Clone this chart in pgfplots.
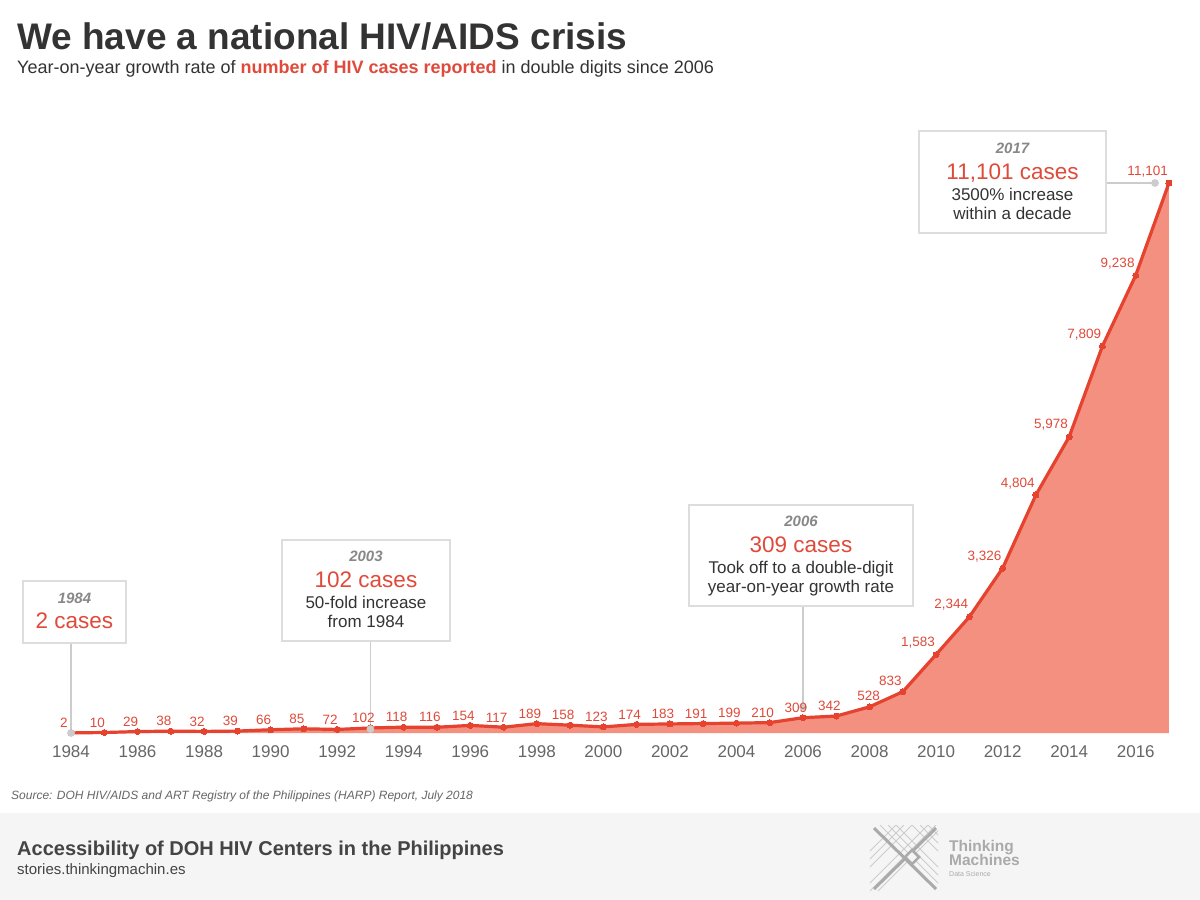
\documentclass[border=0pt]{standalone}
\usepackage{pgfplots}
\pgfplotsset{compat=1.18}
\usepackage{pgfplotstable}
\usepackage{fontspec}
\setmainfont{Liberation Sans}
\definecolor{linered}{HTML}{E5432F}
\definecolor{areared}{HTML}{F4907F}
\definecolor{labred}{HTML}{E04A3A}
\definecolor{titlegray}{HTML}{333333}
\definecolor{tickgray}{HTML}{666666}
\definecolor{markgray}{HTML}{CCCCCC}
\definecolor{boxgray}{HTML}{DDDDDD}
\definecolor{yeargray}{HTML}{888888}
\definecolor{footbg}{HTML}{F5F5F5}
\definecolor{foottext}{HTML}{444444}
\definecolor{logogray}{HTML}{AAAAAA}
\newcommand{\fs}[1]{\fontsize{#1}{#1}\selectfont}
\pgfplotstableread{
year val lab
1984 2 2
1985 10 10
1986 29 29
1987 38 38
1988 32 32
1989 39 39
1990 66 66
1991 85 85
1992 72 72
1993 102 102
1994 118 118
1995 116 116
1996 154 154
1997 117 117
1998 189 189
1999 158 158
2000 123 123
2001 174 174
2002 183 183
2003 191 191
2004 199 199
2005 210 210
2006 309 309
2007 342 342
2008 528 528
2009 833 833
2010 1583 1,583
2011 2344 2,344
2012 3326 3,326
2013 4804 4,804
2014 5978 5,978
2015 7809 7,809
2016 9238 9,238
2017 11101 11,101
}\hiv
\begin{document}
\begin{tikzpicture}
\fill[white] (0pt,0pt) rectangle (1200pt,-900pt);
\fill[footbg] (0pt,-813pt) rectangle (1200pt,-900pt);
\path[use as bounding box] (0pt,0pt) rectangle (1200pt,-900pt);
% titles
\node[anchor=base west, inner sep=0pt, font=\fs{37}\bfseries, text=titlegray] at (17pt,-49pt) {We have a national HIV/AIDS crisis};
\node[anchor=base west, inner sep=0pt, font=\fs{18}, text=titlegray] at (17pt,-73pt) {Year-on-year growth rate of {\bfseries\color{labred}number of HIV cases reported} in double digits since 2006};
\begin{axis}[
  at={(71pt,-733pt)}, anchor=south west,
  scale only axis, width=1098pt, height=550pt,
  xmin=1984, xmax=2017, ymin=0, ymax=11101,
  clip=false,
  axis line style={draw=none},
  ytick=\empty,
  xtick={1984,1986,...,2016},
  xticklabels={1984,1986,1988,1990,1992,1994,1996,1998,2000,2002,2004,2006,2008,2010,2012,2014,2016},
  major tick length=0pt,
  xticklabel style={font=\fs{17}, text=tickgray, yshift=-9pt},
]
\addplot[fill=areared, draw=none] table[x=year,y=val]{\hiv} \closedcycle;
\addplot[linered, line width=3.2pt, mark=*, mark size=3pt, mark options={fill=linered, draw=linered, line width=0pt}] table[x=year,y=val]{\hiv};
% leader lines
\draw[markgray, line width=1.2pt] (axis cs:1984,0) -- ++(0pt,90pt);
\draw[markgray, line width=1.2pt] (axis cs:1993,81) -- ++(0pt,88pt);
\draw[markgray, line width=1.2pt] (axis cs:2006,525) -- ++(0pt,101pt);
\draw[markgray, line width=1.2pt] (axis cs:2016.58,11101) -- ++(-49pt,0pt);
\addplot[only marks, mark=*, mark size=3.6pt, color=markgray, mark options={fill=markgray, draw=markgray}] coordinates {(1984,0) (1993,81) (2006,525) (2016.58,11101)};
% value labels
\addplot[draw=none, mark=none, nodes near coords, point meta=explicit symbolic,
  restrict x to domain=1984:2007,
  every node near coord/.style={font=\fs{13.5}, text=labred, anchor=south, xshift=-7pt, yshift=5pt, inner sep=0pt}]
  table[x=year,y=val,meta=lab]{\hiv};
\addplot[draw=none, mark=none, nodes near coords, point meta=explicit symbolic,
  restrict x to domain=2008:2008,
  every node near coord/.style={font=\fs{13.5}, text=labred, anchor=south, xshift=-1pt, yshift=6pt, inner sep=0pt}]
  table[x=year,y=val,meta=lab]{\hiv};
\addplot[draw=none, mark=none, nodes near coords, point meta=explicit symbolic,
  restrict x to domain=2009:2017,
  every node near coord/.style={font=\fs{13.5}, text=labred, anchor=south east, xshift=-1pt, yshift=6pt, inner sep=0pt}]
  table[x=year,y=val,meta=lab]{\hiv};
\end{axis}
% annotation boxes
\draw[boxgray, line width=1.6pt, fill=white] (23pt,-581pt) rectangle (126pt,-643pt);
\node[anchor=base, inner sep=0pt, font=\fs{15}\bfseries\itshape, text=yeargray] at (74.5pt,-603.5pt) {1984};
\node[anchor=base, inner sep=0pt, font=\fs{22.5}, text=labred] at (74.5pt,-628pt) {2 cases};

\draw[boxgray, line width=1.6pt, fill=white] (282pt,-540pt) rectangle (450pt,-641pt);
\node[anchor=base, inner sep=0pt, font=\fs{15}\bfseries\itshape, text=yeargray] at (366pt,-561.5pt) {2003};
\node[anchor=base, inner sep=0pt, font=\fs{22.5}, text=labred] at (366pt,-587pt) {102 cases};
\node[anchor=base, inner sep=0pt, font=\fs{17}, text=titlegray] at (366pt,-608pt) {50-fold increase};
\node[anchor=base, inner sep=0pt, font=\fs{17}, text=titlegray] at (366pt,-627pt) {from 1984};

\draw[boxgray, line width=1.6pt, fill=white] (689pt,-505pt) rectangle (913pt,-606pt);
\node[anchor=base, inner sep=0pt, font=\fs{15}\bfseries\itshape, text=yeargray] at (801pt,-526.5pt) {2006};
\node[anchor=base, inner sep=0pt, font=\fs{22.5}, text=labred] at (801pt,-552pt) {309 cases};
\node[anchor=base, inner sep=0pt, font=\fs{17}, text=titlegray] at (801pt,-573pt) {Took off to a double-digit};
\node[anchor=base, inner sep=0pt, font=\fs{17}, text=titlegray] at (801pt,-592pt) {year-on-year growth rate};

\draw[boxgray, line width=1.6pt, fill=white] (919pt,-131pt) rectangle (1106pt,-233pt);
\node[anchor=base, inner sep=0pt, font=\fs{15}\bfseries\itshape, text=yeargray] at (1012.5pt,-153.5pt) {2017};
\node[anchor=base, inner sep=0pt, font=\fs{22.5}, text=labred] at (1012.5pt,-179pt) {11,101 cases};
\node[anchor=base, inner sep=0pt, font=\fs{17}, text=titlegray] at (1012.5pt,-200pt) {3500\% increase};
\node[anchor=base, inner sep=0pt, font=\fs{17}, text=titlegray] at (1012.5pt,-219pt) {within a decade};
% source and footer
\node[anchor=base west, inner sep=0pt, font=\fs{12}\itshape, text=tickgray] at (11pt,-799pt) {Source: DOH HIV/AIDS and ART Registry of the Philippines (HARP) Report, July 2018};
\node[anchor=base west, inner sep=0pt, font=\fs{20}\bfseries, text=foottext] at (17pt,-855pt) {Accessibility of DOH HIV Centers in the Philippines};
\node[anchor=base west, inner sep=0pt, font=\fs{15}, text=foottext] at (17pt,-874pt) {stories.thinkingmachin.es};
% logo
\begin{scope}
\clip (870pt,-825pt) rectangle (938pt,-891pt);
\foreach \d in {-24,-16,-8,8,16,24} {
  \draw[logogray!60, line width=0.8pt] (904pt+\d pt,-825pt) -- (970pt+\d pt,-891pt);
  \draw[logogray!60, line width=0.8pt] (920pt+\d pt,-825pt) -- (854pt+\d pt,-891pt);
}
\draw[logogray, line width=3pt] (874pt,-828pt) -- (936pt,-889pt);
\draw[logogray, line width=3pt] (936pt,-828pt) -- (874pt,-889pt);
\end{scope}
\draw[logogray, line width=2.5pt, fill=footbg] (905pt,-857pt) -- (912pt,-850pt) -- (919pt,-857pt) -- (912pt,-864pt) -- cycle;
\node[anchor=base west, inner sep=0pt, font=\fs{15.5}\bfseries, text=logogray] at (949pt,-851pt) {Thinking};
\node[anchor=base west, inner sep=0pt, font=\fs{15.5}\bfseries, text=logogray] at (949pt,-865pt) {Machines};
\node[anchor=base west, inner sep=0pt, font=\fs{7}, text=logogray] at (949pt,-876pt) {Data Science};
\end{tikzpicture}
\end{document}
